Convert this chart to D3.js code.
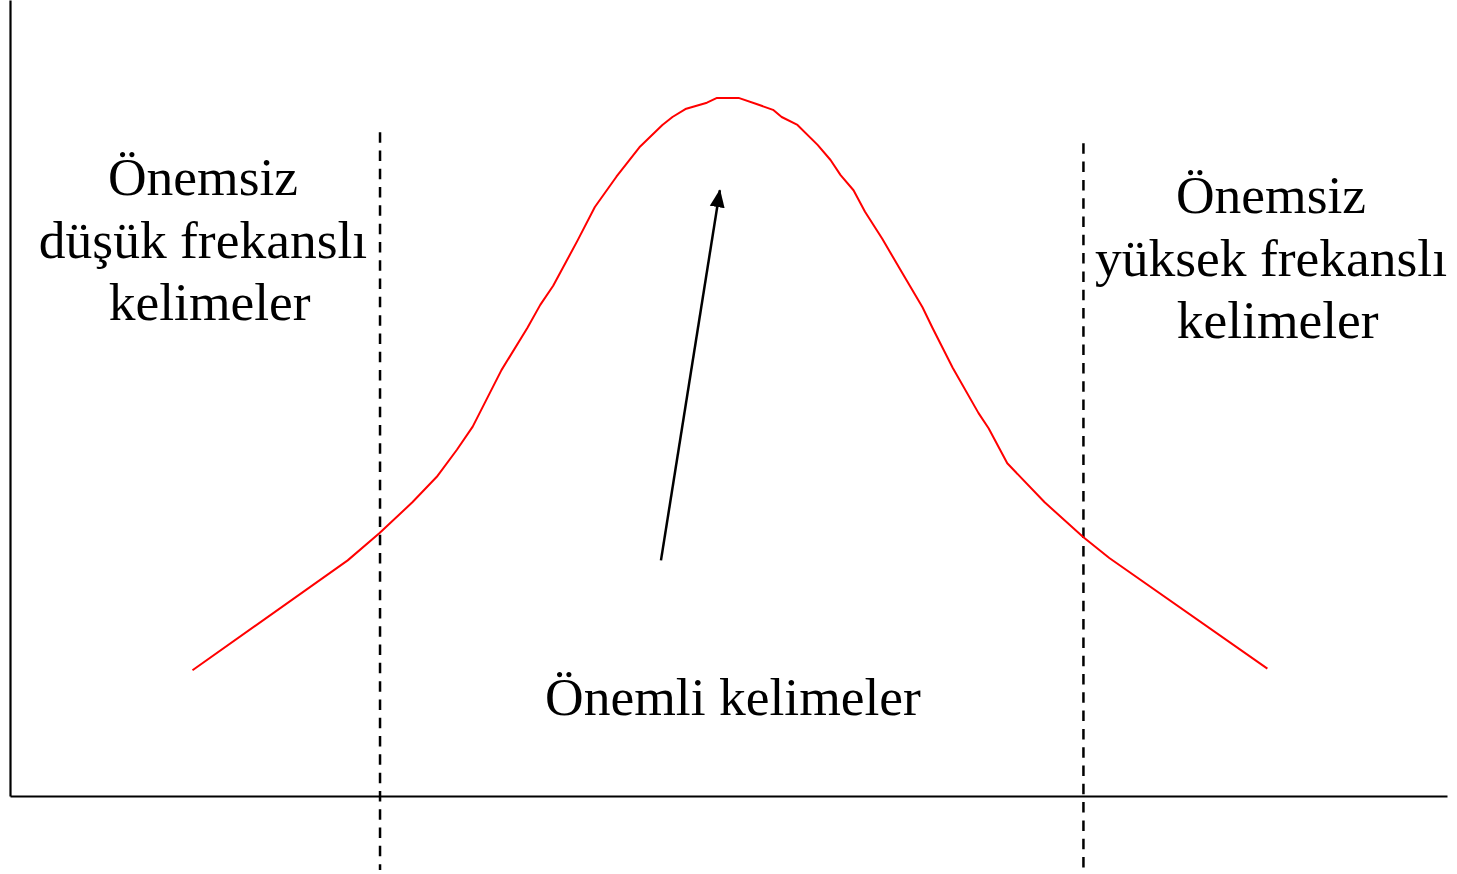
<!DOCTYPE html>
<html>
<head>
<meta charset="utf-8">
<script src="https://cdn.jsdelivr.net/npm/d3@7"></script>
<style>
  body { margin: 0; background: #fff; }
  svg { display: block; }
  text { font-family: "Times New Roman", "Liberation Serif", serif; fill: #000; white-space: pre; }
</style>
</head>
<body>
<script>
var width = 1457;
var height = 874;
var marginLeft = 10;
var marginRight = 10;
var marginTop = 0;
var marginBottom = 78;

// curve points (x: word rank, y: importance, both 0-100)
var curveX = [12.7, 23.5, 25.7, 28.0, 29.7, 31.1, 32.2, 34.2, 36.0, 36.9, 37.8, 39.5, 40.7, 42.2,
              43.8, 45.4, 46.1, 47.0, 48.5, 49.2, 50.7, 52.0, 53.1, 53.7, 54.8, 56.2, 57.1, 57.8,
              58.7, 59.5, 60.7, 61.9, 63.5, 64.2, 65.6, 67.4, 68.1, 69.4, 72.0, 74.7, 76.5, 87.5];
var curveY = [15.8, 29.6, 33.0, 36.9, 40.1, 43.5, 46.4, 53.5, 58.8, 61.7, 64.1, 69.8, 74.0, 77.8,
              81.5, 84.3, 85.3, 86.3, 87.1, 87.7, 87.7, 86.9, 86.2, 85.3, 84.3, 81.8, 79.9, 78.0,
              76.1, 73.4, 70.0, 66.3, 61.4, 58.8, 53.8, 48.1, 46.2, 41.8, 36.9, 32.5, 29.9, 16.0];

// cut-off lines (x) and their top / bottom ends (y)
var cutX = [25.75, 74.7];
var cutTop = [83.4, 82.0];
var cutBottom = [-9.3, -9.8];

// arrow: tail -> head
var arrowX = [45.3, 49.4];
var arrowY = [29.6, 76.1];

// labels
var leftLabel = ["Önemsiz", "düşük frekanslı", " kelimeler"];
var rightLabel = ["Önemsiz", "yüksek frekanslı", " kelimeler"];
var middleLabel = "Önemli kelimeler";

var xScale = d3.scaleLinear()
      .domain([0, 100])
      .range([marginLeft, width - marginRight]);

var yScale = d3.scaleLinear()
      .domain([0, 100])
      .range([height - marginBottom, marginTop]);

var svg = d3.select("body")
            .append("svg")
            .attr("width", width)
            .attr("height", height);

// arrow head
svg.append("defs")
   .append("marker")
    .attr("id", "head")
    .attr("markerUnits", "userSpaceOnUse")
    .attr("viewBox", "0 0 18 16")
    .attr("refX", 17)
    .attr("refY", 8)
    .attr("markerWidth", 18)
    .attr("markerHeight", 16)
    .attr("orient", "auto")
   .append("path")
    .attr("d", "M0,0.5L18,8L0,15.5Z")
    .attr("fill", "#000");

// axes without ticks
var xAxis = d3.axisBottom(xScale).tickValues([]).tickSizeOuter(0);
var yAxis = d3.axisLeft(yScale).tickValues([]).tickSizeOuter(0);

svg.append("g")
    .attr("transform", `translate(0,${yScale(0)})`)
    .call(xAxis)
    .select(".domain")
      .attr("stroke", "#000")
      .attr("stroke-width", 2.2);

svg.append("g")
    .attr("transform", `translate(${xScale(0)},0)`)
    .call(yAxis)
    .select(".domain")
      .attr("stroke", "#000")
      .attr("stroke-width", 2.2);

// dashed cut-off lines
svg.selectAll(".cut")
    .data(cutX)
    .join("line")
      .attr("class", "cut")
      .attr("x1", d => xScale(d))
      .attr("x2", d => xScale(d))
      .attr("y1", (d, i) => yScale(cutTop[i]))
      .attr("y2", (d, i) => yScale(cutBottom[i]))
      .attr("stroke", "#000")
      .attr("stroke-width", 2.5)
      .attr("stroke-dasharray", "10.5,7.8");

// red curve
var points = curveX.map((x, i) => [x, curveY[i]]);

svg.append("path")
    .datum(points)
    .attr("fill", "none")
    .attr("stroke", "#ff0000")
    .attr("stroke-width", 2)
    .attr("stroke-linejoin", "round")
    .attr("d", d3.line()
      .x(d => xScale(d[0]))
      .y(d => yScale(d[1])));

// arrow
svg.append("line")
    .attr("x1", xScale(arrowX[0]))
    .attr("y1", yScale(arrowY[0]))
    .attr("x2", xScale(arrowX[1]))
    .attr("y2", yScale(arrowY[1]))
    .attr("stroke", "#000")
    .attr("stroke-width", 2.5)
    .attr("marker-end", "url(#head)");

// text blocks
function textBlock(lines, cx, firstBaseline, step) {
  svg.append("g")
    .selectAll("text")
    .data(lines)
    .join("text")
      .attr("x", cx)
      .attr("y", (d, i) => firstBaseline + i * step)
      .attr("text-anchor", "middle")
      .attr("font-size", 53.5)
      .text(d => d);
}

textBlock(leftLabel, 203, 195, 62.5);
textBlock(rightLabel, 1271, 213, 62.5);
textBlock([middleLabel], 733, 715, 0);
</script>
</body>
</html>
